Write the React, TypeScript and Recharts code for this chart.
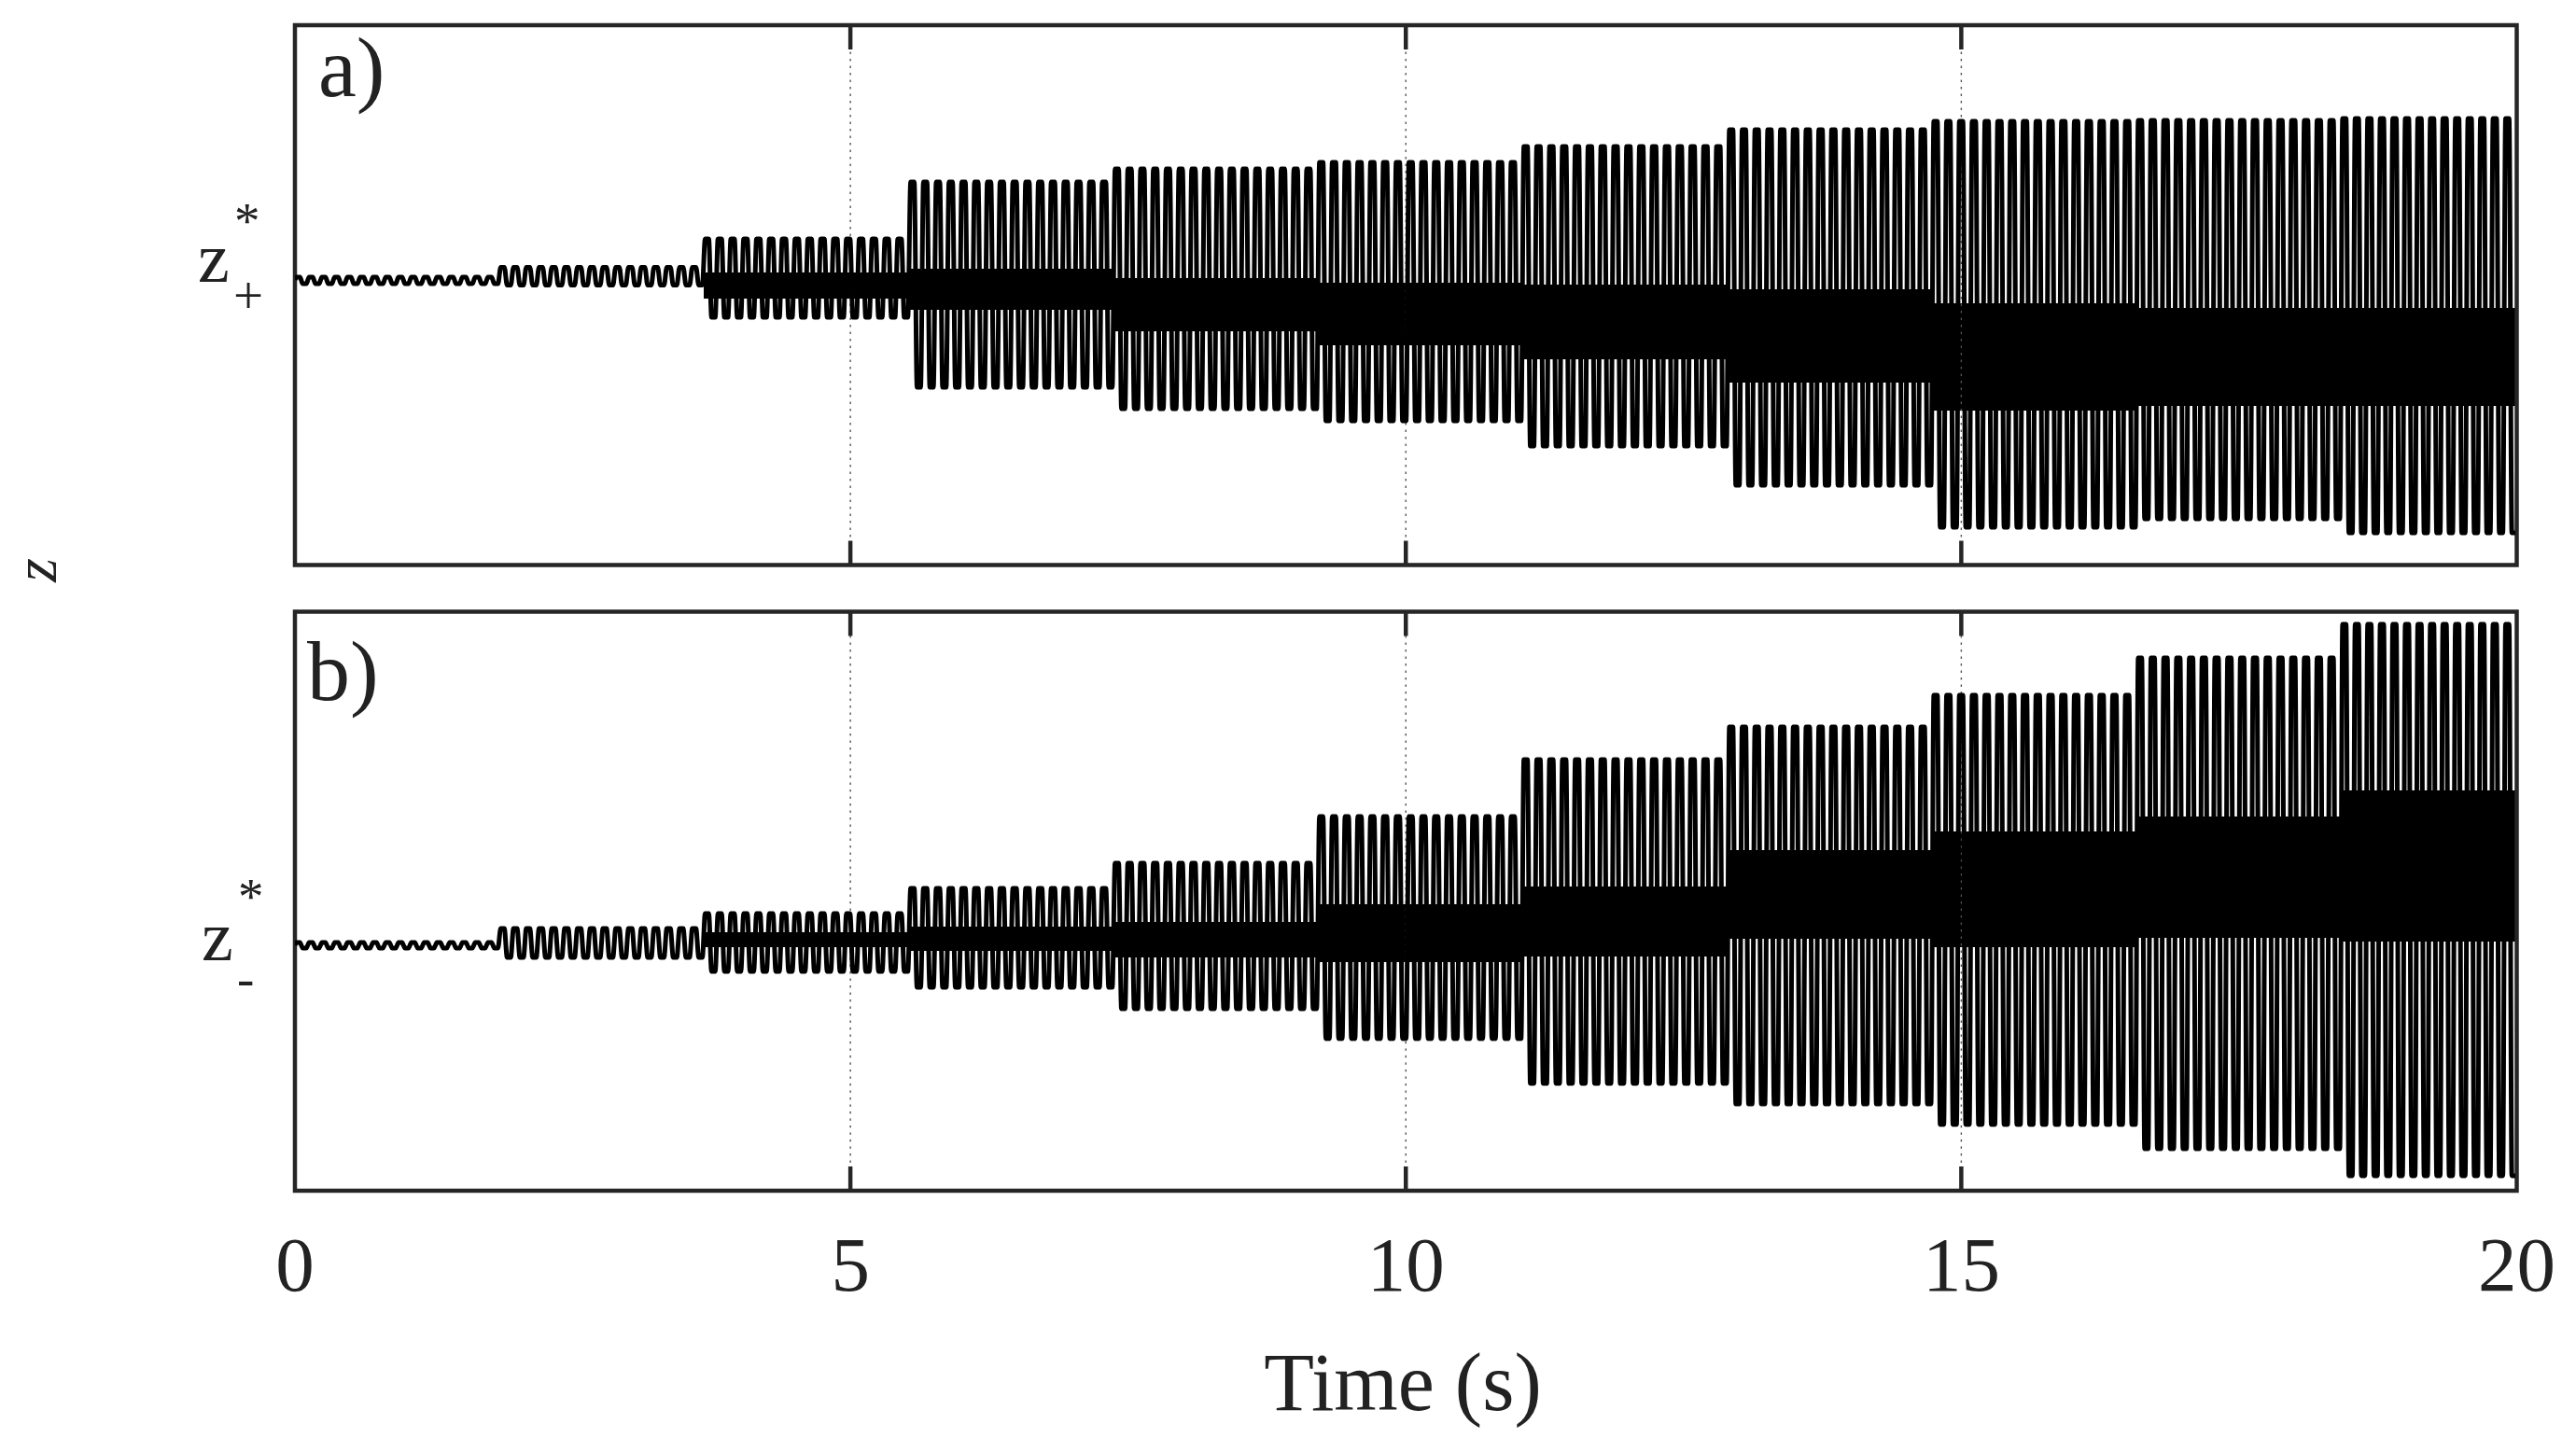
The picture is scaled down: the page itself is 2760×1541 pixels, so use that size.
import React from 'react';
import { ComposedChart, Line, Area, XAxis, YAxis, ReferenceLine, ReferenceArea } from 'recharts';

// time of each amplitude step (s)
const SEG_EDGES = [0, 1.84, 3.68, 5.53, 7.37, 9.21, 11.05, 12.9, 14.74, 16.58, 18.42, 20];
// peaks counted in each step
const CYCLES = [16, 16, 16, 16, 16, 16, 16, 16, 16, 16, 14];

// panel a) z+*  (envelope read per step)
const A_TOP = [0.03, 0.135, 0.44, 1.05, 1.19, 1.26, 1.43, 1.61, 1.7, 1.71, 1.73];
const A_BOTTOM = [-0.04, -0.055, -0.4, -1.15, -1.38, -1.51, -1.78, -2.2, -2.65, -2.56, -2.71];
const A_CORE_HI = [null, null, 0.08, 0.12, 0.02, -0.03, -0.05, -0.1, -0.25, -0.3, -0.3];
const A_CORE_LO = [null, null, -0.2, -0.32, -0.55, -0.7, -0.85, -1.1, -1.4, -1.35, -1.35];
const A_DOMAIN = [-3.055, 2.73];

// panel b) z-*
const B_TOP = [0.03, 0.18, 0.34, 0.61, 0.88, 1.38, 1.99, 2.34, 2.68, 3.08, 3.44];
const B_BOTTOM = [-0.03, -0.13, -0.28, -0.45, -0.68, -1.0, -1.48, -1.7, -1.92, -2.18, -2.47];
const B_CORE_HI = [null, null, 0.14, 0.2, 0.25, 0.44, 0.63, 1.02, 1.22, 1.38, 1.66];
const B_CORE_LO = [null, null, -0.02, -0.06, -0.13, -0.18, -0.12, 0.07, -0.02, 0.08, 0.04];
const B_DOMAIN = [-2.63, 3.575];

const X_TICKS = [0, 5, 10, 15, 20];
const GRID_X = [5, 10, 15];

const FONT = '"Liberation Serif", "DejaVu Serif", serif';
const FRAME = '#262626';

// each half cycle sits on the step's top or bottom value (broad, rounded crests)
function buildWave(top: number[], bottom: number[]) {
  const pts: { t: number; v: number }[] = [{ t: 0, v: 0 }];
  for (let i = 0; i < CYCLES.length; i++) {
    const s = SEG_EDGES[i];
    const e = SEG_EDGES[i + 1];
    const half = (e - s) / (2 * CYCLES[i]);
    for (let k = 0; k < 2 * CYCLES[i]; k++) {
      const v = k % 2 === 0 ? top[i] : bottom[i];
      pts.push({ t: s + (k + 0.22) * half, v });
      pts.push({ t: s + (k + 0.78) * half, v });
    }
  }
  return pts;
}

function buildCore(hi: (number | null)[], lo: (number | null)[]) {
  const pts: { t: number; core: [number, number] }[] = [];
  for (let i = 0; i < hi.length; i++) {
    if (hi[i] == null || lo[i] == null) continue;
    pts.push({ t: SEG_EDGES[i], core: [lo[i] as number, hi[i] as number] });
    pts.push({ t: SEG_EDGES[i + 1], core: [lo[i] as number, hi[i] as number] });
  }
  return pts;
}

function gridParts() {
  return GRID_X.map((x) => (
    <ReferenceLine key={'g' + x} x={x} stroke="#555" strokeWidth={1.4} strokeDasharray="2.5 5" />
  ));
}

function frameParts(domain: number[]) {
  const [lo, hi] = domain;
  const tick = 0.26;
  return [
    ...GRID_X.map((x) => (
      <ReferenceLine key={'tb' + x} segment={[{ x, y: lo }, { x, y: lo + tick }]} stroke={FRAME} strokeWidth={4.5} />
    )),
    ...GRID_X.map((x) => (
      <ReferenceLine key={'tt' + x} segment={[{ x, y: hi }, { x, y: hi - tick }]} stroke={FRAME} strokeWidth={4.5} />
    )),
    <ReferenceArea key="frame" x1={0} x2={20} y1={lo} y2={hi} fill="none" stroke={FRAME} strokeWidth={4.5} />,
  ];
}

function Panel({ top, bottom, coreHi, coreLo, domain, height, margin, showTicks }: any) {
  const wave = buildWave(top, bottom);
  const core = buildCore(coreHi, coreLo);
  return (
    <ComposedChart width={2760} height={height} margin={margin}>
      <XAxis
        type="number"
        dataKey="t"
        domain={[0, 20]}
        ticks={X_TICKS}
        allowDataOverflow
        hide={!showTicks}
        axisLine={false}
        tickLine={false}
        tickSize={0}
        tickMargin={48}
        height={100}
        tick={{ fontSize: 83, fill: '#222', fontFamily: FONT }}
      />
      <YAxis type="number" domain={domain} allowDataOverflow hide />
      {gridParts()}
      <Area
        data={core}
        dataKey="core"
        type="linear"
        stroke="none"
        fill="#000"
        fillOpacity={1}
        isAnimationActive={false}
      />
      <Line
        data={wave}
        dataKey="v"
        type="monotone"
        stroke="#000"
        strokeWidth={5}
        strokeLinejoin="round"
        dot={false}
        isAnimationActive={false}
      />
      {frameParts(domain)}
    </ComposedChart>
  );
}

export default function App() {
  return (
    <div style={{ position: 'absolute', left: 0, top: 0, width: 2760, height: 1541, background: '#fff' }}>
      <div style={{ position: 'absolute', left: 0, top: 0 }}>
        <Panel
          top={A_TOP}
          bottom={A_BOTTOM}
          coreHi={A_CORE_HI}
          coreLo={A_CORE_LO}
          domain={A_DOMAIN}
          height={660}
          margin={{ top: 27, right: 63.5, bottom: 54.5, left: 316 }}
          showTicks={false}
        />
      </div>
      <div style={{ position: 'absolute', left: 0, top: 0 }}>
        <Panel
          top={B_TOP}
          bottom={B_BOTTOM}
          coreHi={B_CORE_HI}
          coreLo={B_CORE_LO}
          domain={B_DOMAIN}
          height={1541}
          margin={{ top: 655.5, right: 63.5, bottom: 165, left: 316 }}
          showTicks
        />
      </div>
      <svg
        width={2760}
        height={1541}
        style={{ position: 'absolute', left: 0, top: 0, pointerEvents: 'none' }}
        fontFamily={FONT}
        fill="#222"
      >
        <text x={341} y={103} fontSize={92}>a)</text>
        <text x={329} y={750} fontSize={92}>b)</text>

        <text x={212} y={302} fontSize={76}>z</text>
        <text x={251} y={255} fontSize={55}>*</text>
        <text x={250} y={336} fontSize={57}>+</text>

        <text x={216} y={1029} fontSize={76}>z</text>
        <text x={255} y={979} fontSize={55}>*</text>
        <text x={254} y={1067} fontSize={55}>-</text>

        <text transform="translate(60, 611) rotate(-90)" textAnchor="middle" fontSize={66} fontStyle="italic">z</text>

        <text x={1503} y={1511} textAnchor="middle" fontSize={88}>Time (s)</text>
      </svg>
    </div>
  );
}
